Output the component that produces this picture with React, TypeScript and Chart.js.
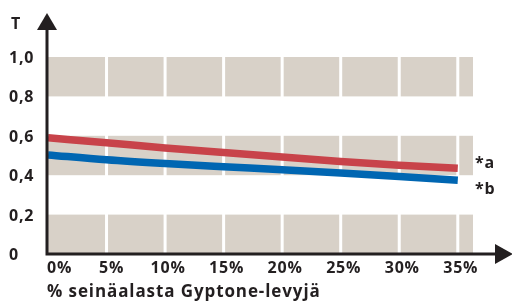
import React, { useEffect, useRef } from "react";
import { Chart, registerables } from "chart.js";

Chart.register(...registerables);

const xValues = [0, 5, 10, 15, 20, 25, 30, 35];
const seriesA = [0.59, 0.565, 0.538, 0.515, 0.492, 0.47, 0.451, 0.435];
const seriesB = [0.503, 0.478, 0.459, 0.443, 0.428, 0.411, 0.393, 0.374];
const yTicks = [0, 0.2, 0.4, 0.6, 0.8, 1.0];
const yTickLabels = ["0", "0,2", "0,4", "0,6", "0,8", "1,0"];
const xTickLabels = ["0%", "5%", "10%", "15%", "20%", "25%", "30%", "35%"];
const bands = [[0, 0.2], [0.4, 0.6], [0.8, 1.0]];
const seriesLabels = ["*a", "*b"];
const yAxisTitle = "T";
const xAxisTitle = "% seinäalasta Gyptone-levyjä";

const INK = "#231f20";
const BAND = "#d8d1c8";
const RED = "#c8434a";
const BLUE = "#0066b2";
const FONT = "bold 16px 'Open Sans', sans-serif";
const TITLE_FONT = "bold 17px 'Open Sans', sans-serif";

const decorPlugin = {
  id: "decor",
  beforeDatasetsDraw(chart: any) {
    const { ctx, chartArea, scales } = chart;
    const xs = scales.x;
    const ys = scales.y;
    ctx.save();
    ctx.fillStyle = BAND;
    bands.forEach(([a, b]) => {
      const y1 = ys.getPixelForValue(b);
      const y0 = ys.getPixelForValue(a);
      ctx.fillRect(chartArea.left, y1, chartArea.right - chartArea.left, y0 - y1);
    });
    ctx.fillStyle = "#ffffff";
    xValues.forEach((v) => {
      if (v === 0) return;
      const x = xs.getPixelForValue(v);
      ctx.fillRect(x - 1.5, chartArea.top, 3, chartArea.bottom - chartArea.top);
    });
    ctx.restore();
  },
  afterDatasetsDraw(chart: any) {
    const { ctx, chartArea, scales } = chart;
    const xs = scales.x;
    const ys = scales.y;
    const x0 = xs.getPixelForValue(0);
    const y0 = ys.getPixelForValue(0);
    ctx.save();
    ctx.strokeStyle = INK;
    ctx.fillStyle = INK;
    ctx.lineWidth = 3;
    ctx.beginPath();
    ctx.moveTo(x0 - 1, y0);
    ctx.lineTo(x0 - 1, 26);
    ctx.moveTo(x0 - 2.5, y0);
    ctx.lineTo(498, y0);
    ctx.stroke();
    ctx.beginPath();
    ctx.moveTo(x0 - 1, 13);
    ctx.lineTo(x0 - 11, 30);
    ctx.lineTo(x0 + 9, 30);
    ctx.closePath();
    ctx.fill();
    ctx.beginPath();
    ctx.moveTo(513, y0);
    ctx.lineTo(495, y0 - 10);
    ctx.lineTo(495, y0 + 10);
    ctx.closePath();
    ctx.fill();
    ctx.font = FONT;
    try { (ctx as any).letterSpacing = "0.8px"; } catch (e) {}
    ctx.textBaseline = "middle";
    ctx.textAlign = "left";
    yTicks.forEach((v, i) => {
      ctx.fillText(yTickLabels[i], 9, ys.getPixelForValue(v) + 1.5);
    });
    ctx.fillText(yAxisTitle, 11, 24);
    xValues.forEach((v, i) => {
      const x = xs.getPixelForValue(v);
      if (i === 0) {
        ctx.textAlign = "left";
        ctx.fillText(xTickLabels[i], x - 1, y0 + 14);
      } else {
        ctx.textAlign = "center";
        ctx.fillText(xTickLabels[i], x + (i === 1 ? 5 : 3), y0 + 14);
      }
    });
    ctx.textAlign = "left";
    ctx.fillText(seriesLabels[0], chartArea.right + 2, ys.getPixelForValue(seriesA[seriesA.length - 1]) - 5);
    ctx.fillText(seriesLabels[1], chartArea.right + 2, ys.getPixelForValue(seriesB[seriesB.length - 1]) + 9);
    ctx.font = TITLE_FONT;
    try { (ctx as any).letterSpacing = "0.9px"; } catch (e) {}
    ctx.fillText(xAxisTitle, x0 - 1, y0 + 38);
    ctx.restore();
  },
};

export default function App() {
  const ref = useRef<HTMLCanvasElement | null>(null);
  useEffect(() => {
    if (!ref.current) return;
    const chart = new Chart(ref.current, {
      type: "line",
      data: {
        datasets: [
          {
            label: seriesLabels[0],
            data: xValues.map((x, i) => ({ x, y: seriesA[i] })),
            borderColor: RED,
            borderWidth: 7.5,
            pointRadius: 0,
            cubicInterpolationMode: "monotone",
            borderCapStyle: "butt",
          },
          {
            label: seriesLabels[1],
            data: xValues.map((x, i) => ({ x, y: seriesB[i] })),
            borderColor: BLUE,
            borderWidth: 7.5,
            pointRadius: 0,
            cubicInterpolationMode: "monotone",
            borderCapStyle: "butt",
          },
        ],
      },
      options: {
        animation: false,
        responsive: false,
        maintainAspectRatio: false,
        layout: { padding: { left: 48, right: 39, top: 57, bottom: 50 } },
        plugins: { legend: { display: false }, tooltip: { enabled: false } },
        scales: {
          x: { type: "linear", min: 0, max: 36.3, display: false },
          y: { type: "linear", min: 0, max: 1, display: false },
        },
      },
      plugins: [decorPlugin],
    } as any);
    return () => chart.destroy();
  }, []);
  return (
    <div style={{ position: "fixed", left: 0, top: 0, width: 512, height: 304, background: "#fff" }}>
      <canvas ref={ref} width={512} height={304} style={{ display: "block" }} />
    </div>
  );
}
